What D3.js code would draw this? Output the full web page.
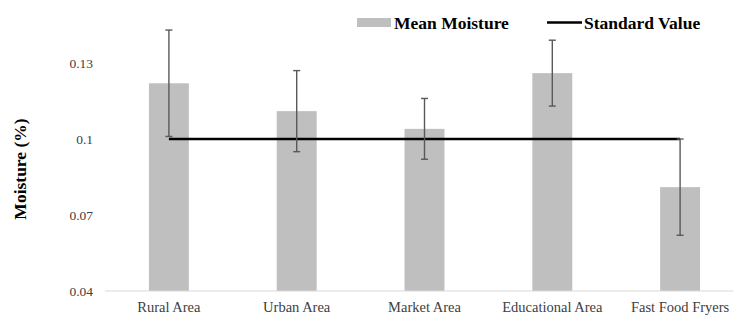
<!DOCTYPE html>
<html><head><meta charset="utf-8">
<script src="https://cdn.jsdelivr.net/npm/d3@7"></script>
<style>body{margin:0;background:#fff}svg{display:block}</style>
</head><body>
<svg id="c" width="733" height="316"></svg>
<script>
const categories = ["Rural Area","Urban Area","Market Area","Educational Area","Fast Food Fryers"];
const meanMoisture = [0.122, 0.111, 0.104, 0.126, 0.081];
const errorSD = [0.021, 0.016, 0.012, 0.013, 0.019];
const standardValue = [0.1, 0.1, 0.1, 0.1, 0.1];
const yTicks = [0.04, 0.07, 0.1, 0.13];
const yTickLabels = ["0.04","0.07","0.1","0.13"];

const svg = d3.select("#c");
const font = "'Liberation Serif', 'Times New Roman', serif";
const x = d3.scaleBand().domain(categories).range([105, 744]).paddingInner(0.6875).paddingOuter(0.34375);
const y = d3.scaleLinear().domain([0.04, 0.13]).range([291, 63]);

// bars
svg.selectAll("rect.bar").data(categories).join("rect")
  .attr("x", d => x(d)).attr("width", x.bandwidth())
  .attr("y", (d,i) => y(meanMoisture[i]))
  .attr("height", (d,i) => y(0.04) - y(meanMoisture[i]))
  .attr("fill", "#bfbfbf");

// axis line
svg.append("line").attr("x1", 105).attr("x2", 733).attr("y1", y(0.04)).attr("y2", y(0.04))
  .attr("stroke", "#d9d9d9").attr("stroke-width", 1);

// standard line
const cx = d => x(d) + x.bandwidth()/2;
svg.append("path")
  .datum(categories.map((c,i) => [cx(c), y(standardValue[i])]))
  .attr("d", d3.line())
  .attr("fill", "none").attr("stroke", "#000").attr("stroke-width", 2.5);

// error bars
const eb = svg.selectAll("g.eb").data(categories).join("g").attr("stroke", "#595959").attr("stroke-width", 1.4);
eb.append("line").attr("x1", cx).attr("x2", cx)
  .attr("y1", (d,i) => y(meanMoisture[i] + errorSD[i]))
  .attr("y2", (d,i) => y(meanMoisture[i] - errorSD[i]));
eb.append("line").attr("x1", d => cx(d) - 3.5).attr("x2", d => cx(d) + 3.5)
  .attr("y1", (d,i) => y(meanMoisture[i] + errorSD[i])).attr("y2", (d,i) => y(meanMoisture[i] + errorSD[i]));
eb.append("line").attr("x1", d => cx(d) - 3.5).attr("x2", d => cx(d) + 3.5)
  .attr("y1", (d,i) => y(meanMoisture[i] - errorSD[i])).attr("y2", (d,i) => y(meanMoisture[i] - errorSD[i]));

// y tick labels
svg.selectAll("text.yt").data(yTicks).join("text")
  .attr("x", 93).attr("y", d => y(d)).attr("dy", "0.35em")
  .attr("text-anchor", "end").attr("font-family", font).attr("font-size", 13.5).attr("fill", "#404040")
  .text((d,i) => yTickLabels[i]);

// x labels
svg.selectAll("text.xt").data(categories).join("text")
  .attr("x", cx).attr("y", 312)
  .attr("text-anchor", "middle").attr("font-family", font).attr("font-size", 14.5).attr("fill", "#404040")
  .text(d => d);

// y title
svg.append("text").attr("transform", "translate(26,169) rotate(-90)")
  .attr("text-anchor", "middle").attr("font-family", font).attr("font-size", 17.5).attr("font-weight", "bold")
  .text("Moisture (%)");

// legend
svg.append("rect").attr("x", 357).attr("y", 18).attr("width", 34).attr("height", 9).attr("fill", "#bfbfbf");
svg.append("text").attr("x", 394).attr("y", 28.5).attr("font-family", font).attr("font-size", 17.5).attr("font-weight", "bold").text("Mean Moisture");
svg.append("line").attr("x1", 547).attr("x2", 582).attr("y1", 22.5).attr("y2", 22.5).attr("stroke", "#000").attr("stroke-width", 2.5);
svg.append("text").attr("x", 584).attr("y", 28.5).attr("font-family", font).attr("font-size", 17.5).attr("font-weight", "bold").text("Standard Value");
</script>
</body></html>
